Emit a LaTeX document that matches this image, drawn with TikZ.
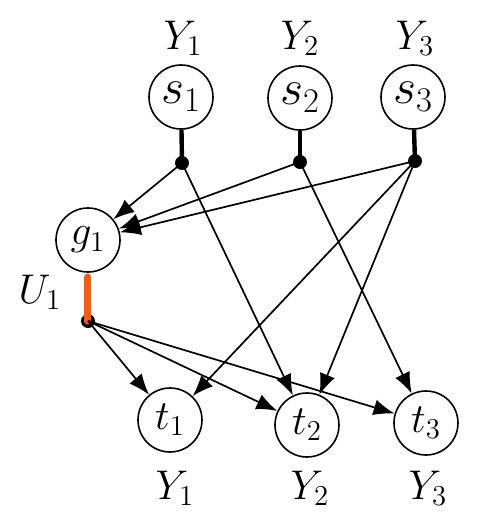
\documentclass[tikz,border=0pt]{standalone}
\usetikzlibrary{arrows.meta}
\begin{document}
\begin{tikzpicture}[x=0.5pt,y=-0.5pt,
  vnode/.style={circle,draw,line width=0.8pt,minimum size=32pt,inner sep=0pt},
  big/.style={font=\fontsize{24}{28}\selectfont},
  tbig/.style={font=\fontsize{22}{26}\selectfont},
  mid/.style={font=\fontsize{21}{25}\selectfont},
  dotn/.style={circle,fill,inner sep=0pt,minimum size=7pt},
  arr/.style={line width=0.85pt,-{Latex[length=10.5pt,width=8pt]}},
  stem/.style={line width=2.2pt},
  ostem/.style={line width=3.5pt,draw={rgb,255:red,255;green,90;blue,10},line cap=round}]
\useasboundingbox (0,0) rectangle (481,527);
% source nodes
\node[vnode,big] (s1) at (181,97) {$s_1$};
\node[vnode,big] (s2) at (300,98) {$s_2$};
\node[vnode,big] (s3) at (413,97) {$s_3$};
\node[mid] (ys1) at (183,38) {$Y_1$};
\node[mid] (ys2) at (300,38) {$Y_2$};
\node[mid] (ys3) at (415,38) {$Y_3$};
\node[dotn] (d1) at (182,163) {};
\node[dotn] (d2) at (300,162) {};
\node[dotn] (d3) at (415,161) {};
\draw[stem] (s1) -- (d1.center);
\draw[stem] (s2) -- (d2.center);
\draw[stem] (s3) -- (d3.center);
% g node
\node[vnode,mid] (g1) at (88,240) {$g_1$};
\node[dotn] (du) at (88,321) {};
\node[mid] (u1) at (40,292) {$U_1$};
\draw[ostem] (88,277) -- (du.center);
% targets
\node[vnode,tbig] (t1) at (170,420) {$t_1$};
\node[vnode,tbig] (t2) at (307,425) {$t_2$};
\node[vnode,tbig] (t3) at (426,423) {$t_3$};
\node[mid] (yt1) at (175,488) {$Y_1$};
\node[mid] (yt2) at (310,488) {$Y_2$};
\node[mid] (yt3) at (428,488) {$Y_3$};
% arrows
\draw[arr] (d1.center) -- (g1);
\draw[arr] (d1.center) -- (t2);
\draw[arr] (d2.center) -- (g1);
\draw[arr] (d2.center) -- (t3);
\draw[arr] (d3.center) -- (g1);
\draw[arr] (d3.center) -- (t1);
\draw[arr] (d3.center) -- (t2);
\draw[arr] (du.center) -- (t1);
\draw[arr] (du.center) -- (t2);
\draw[arr] (du.center) -- (t3);
\end{tikzpicture}
\end{document}
